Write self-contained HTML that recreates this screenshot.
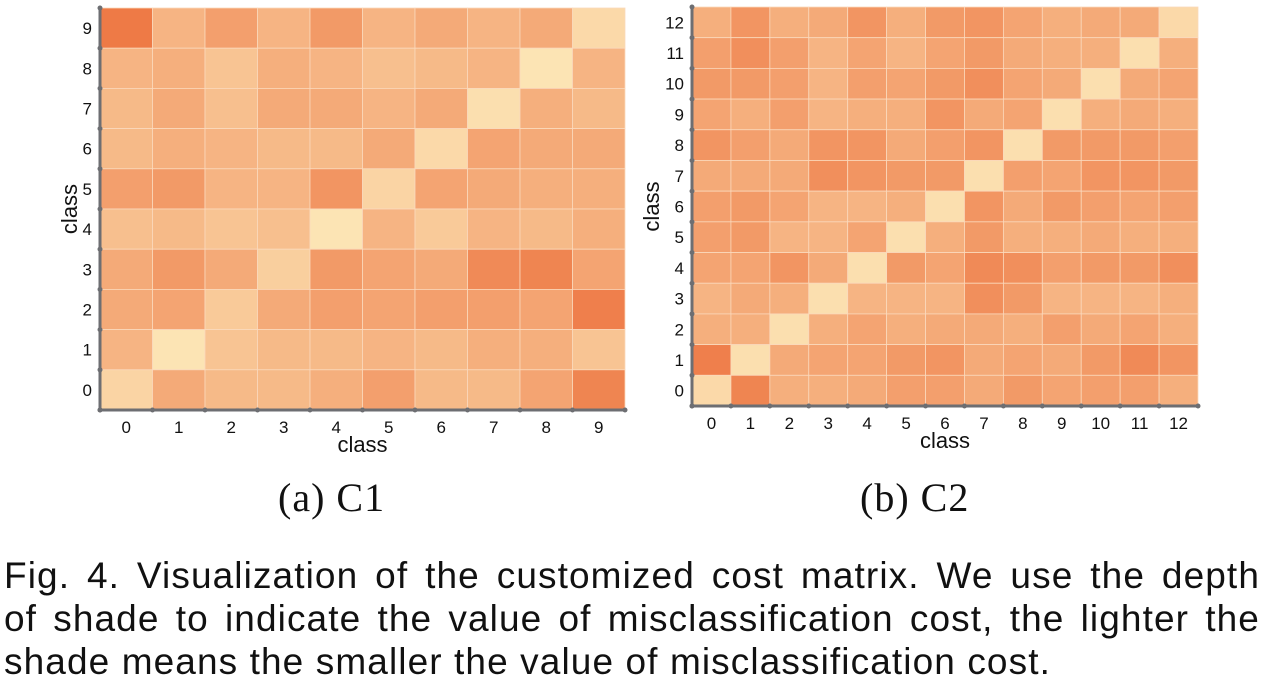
<!DOCTYPE html>
<html><head><meta charset="utf-8"><style>
body{margin:0;background:#fff;width:1266px;height:690px;overflow:hidden;position:relative;font-family:"Liberation Sans",sans-serif}
#cap{position:absolute;left:4px;top:554px;width:1256px;font-size:37px;letter-spacing:1.1px;line-height:43px;color:#111}
#cap div{text-align:justify;text-align-last:justify;white-space:nowrap}
#cap div.last{text-align-last:left}
.sub{position:absolute;top:474px;font-family:"Liberation Serif",serif;font-size:40px;letter-spacing:1px;color:#111}
</style></head><body>
<svg id="chart" width="1266" height="540" style="position:absolute;left:0;top:0" font-family="'Liberation Sans',sans-serif"></svg>
<div class="sub" style="left:278px">(a) C1</div>
<div class="sub" style="left:860px">(b) C2</div>
<div id="cap">
<div>Fig. 4. Visualization of the customized cost matrix. We use the depth</div>
<div>of shade to indicate the value of misclassification cost, the lighter the</div>
<div class="last">shade means the smaller the value of misclassification cost.</div>
</div>
<script>
// rows listed from top (highest class) to bottom (class 0); columns class 0..n-1
const c1Labels=["0","1","2","3","4","5","6","7","8","9"];
const c1Values=[
[1.0,.45,.65,.45,.7,.45,.55,.45,.55,.1],
[.45,.5,.3,.5,.45,.35,.4,.45,0,.45],
[.4,.55,.35,.55,.55,.45,.55,.05,.5,.4],
[.4,.5,.45,.4,.4,.55,.1,.6,.55,.55],
[.65,.7,.45,.45,.75,.15,.6,.55,.5,.5],
[.35,.4,.3,.35,0,.45,.25,.45,.4,.5],
[.55,.7,.55,.2,.7,.6,.55,.85,.9,.6],
[.55,.6,.25,.55,.65,.6,.65,.65,.6,.95],
[.45,0,.3,.4,.4,.45,.4,.5,.5,.3],
[.15,.55,.4,.4,.5,.65,.4,.4,.6,.9]];
const c2Labels=["0","1","2","3","4","5","6","7","8","9","10","11","12"];
const c2Values=[
[.5,.75,.5,.55,.75,.5,.7,.75,.6,.5,.55,.55,.1],
[.65,.8,.65,.45,.6,.45,.6,.7,.55,.5,.5,.05,.5],
[.7,.7,.65,.45,.65,.6,.7,.8,.6,.55,.05,.55,.6],
[.6,.5,.65,.45,.5,.5,.75,.55,.6,.05,.5,.55,.5],
[.75,.65,.55,.75,.75,.55,.65,.75,.05,.7,.7,.7,.65],
[.55,.55,.55,.8,.75,.7,.7,.05,.65,.6,.75,.75,.7],
[.65,.7,.6,.45,.45,.5,.05,.75,.55,.7,.65,.6,.65],
[.65,.7,.45,.45,.6,.05,.5,.7,.5,.5,.55,.5,.5],
[.6,.6,.75,.55,.05,.7,.6,.85,.8,.65,.7,.7,.8],
[.45,.55,.5,.05,.45,.45,.45,.8,.7,.45,.45,.45,.5],
[.5,.5,.05,.5,.6,.5,.55,.55,.5,.65,.55,.6,.5],
[.95,.05,.55,.6,.6,.7,.75,.55,.6,.55,.7,.85,.75],
[.1,.9,.5,.5,.55,.65,.65,.55,.7,.6,.65,.65,.5]];

const NS="http://www.w3.org/2000/svg";
const svg=document.getElementById('chart');
function mk(t,a,p){const e=document.createElementNS(NS,t);for(const k in a)e.setAttribute(k,a[k]);(p||svg).appendChild(e);return e;}
function color(v){const a=[252,228,180],b=[238,122,70];return 'rgb('+a.map((x,i)=>Math.round(x+(b[i]-x)*v)).join(',')+')';}
function heat(name,labels,vals,x0,y0,x1,y1,fs,ytx){
  const g=mk('g',{});
  
  
  const n=labels.length,cw=(x1-x0)/n,ch=(y1-y0)/n;
  const xs=i=>x0+i*cw, ys=r=>y0+r*ch;
  vals.forEach((row,r)=>row.forEach((v,c)=>{
    const cell=mk('rect',{x:xs(c),y:ys(r),width:cw,height:ch,fill:color(v),stroke:'#fbd9bc','stroke-width':0.8},g);
    
    
  }));
  mk('line',{x1:x0,y1:y0-2,x2:x0,y2:y1,stroke:'#6d6e72','stroke-width':3},g);
  mk('line',{x1:x0,y1:y1,x2:x1+2,y2:y1,stroke:'#6d6e72','stroke-width':3},g);
  for(let i=0;i<=n;i++){
    mk('circle',{cx:xs(i),cy:y1,r:2.5,fill:'#6d6e72'},g);
    mk('circle',{cx:x0,cy:ys(i),r:2.5,fill:'#6d6e72'},g);
  }
  labels.forEach((l,i)=>{
    const t=mk('text',{x:xs(i)+cw/2,y:y1+23,'font-size':fs,'text-anchor':'middle',fill:'#111'},g);t.textContent=l;
    
    const u=mk('text',{x:x0-8,y:ys(n-1-i)+ch/2+6,'font-size':fs,'text-anchor':'end',fill:'#111'},g);u.textContent=l;
    
  });
  const xt=mk('text',{x:(x0+x1)/2,y:y1+42,'font-size':22,'text-anchor':'middle',fill:'#111'},g);xt.textContent='class';
  
  const cy=(y0+y1)/2;
  const yt=mk('text',{x:0,y:0,'font-size':22,'text-anchor':'middle',fill:'#111',transform:'translate('+ytx+','+cy+') rotate(-90)'},g);yt.textContent='class';
  
}
heat('heatmap-c1',c1Labels,c1Values,100,8,625,410,17,77);
heat('heatmap-c2',c2Labels,c2Values,692,7,1198,406,17,659);
</script>
</body></html>
